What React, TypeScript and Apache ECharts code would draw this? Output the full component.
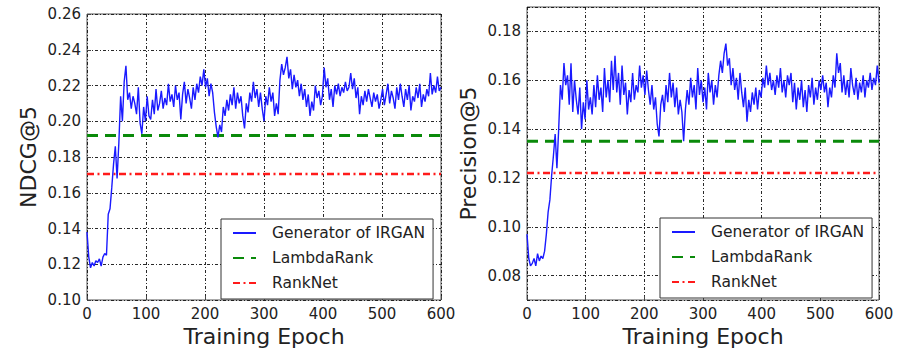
import React, { useEffect, useRef } from "react";
import * as echarts from "echarts";

const seriesNames = ["Generator of IRGAN", "LambdaRank", "RankNet"];
const axisTitles = ["NDCG@5", "Precision@5"];
const xTitle = "Training Epoch";
const epochStep = 3;

const ndcg = [
  0.138, 0.124, 0.118, 0.121, 0.119, 0.122, 0.121, 0.123, 0.119, 0.124,
  0.126, 0.125, 0.148, 0.151, 0.163, 0.176, 0.186, 0.168, 0.188, 0.214,
  0.200, 0.222, 0.231, 0.212, 0.216, 0.207, 0.214, 0.210, 0.204, 0.219,
  0.199, 0.193, 0.208, 0.200, 0.214, 0.203, 0.201, 0.212, 0.204, 0.218,
  0.206, 0.210, 0.217, 0.207, 0.213, 0.209, 0.221, 0.211, 0.215, 0.208,
  0.220, 0.212, 0.216, 0.201, 0.215, 0.222, 0.210, 0.218, 0.213, 0.207,
  0.219, 0.212, 0.221, 0.216, 0.225, 0.220, 0.229, 0.219, 0.224, 0.214,
  0.221, 0.216, 0.205, 0.197, 0.191, 0.198, 0.194, 0.208, 0.203, 0.212,
  0.206, 0.215, 0.209, 0.219, 0.207, 0.216, 0.210, 0.214, 0.203, 0.196,
  0.210, 0.205, 0.216, 0.211, 0.222, 0.213, 0.218, 0.208, 0.216, 0.207,
  0.200, 0.214, 0.209, 0.219, 0.211, 0.216, 0.203, 0.210, 0.204, 0.223,
  0.232, 0.226, 0.230, 0.236, 0.224, 0.229, 0.218, 0.226, 0.219, 0.223,
  0.214, 0.221, 0.212, 0.218, 0.208, 0.215, 0.203, 0.211, 0.206, 0.220,
  0.213, 0.217, 0.209, 0.214, 0.230, 0.219, 0.224, 0.212, 0.218, 0.208,
  0.220, 0.215, 0.221, 0.214, 0.219, 0.216, 0.222, 0.217, 0.219, 0.227,
  0.218, 0.224, 0.213, 0.219, 0.204, 0.214, 0.209, 0.217, 0.211, 0.218,
  0.213, 0.208, 0.216, 0.211, 0.215, 0.207, 0.212, 0.218, 0.209, 0.215,
  0.221, 0.210, 0.217, 0.213, 0.207, 0.219, 0.212, 0.221, 0.214, 0.208,
  0.218, 0.212, 0.220, 0.206, 0.214, 0.211, 0.219, 0.213, 0.221, 0.208,
  0.215, 0.211, 0.218, 0.214, 0.227, 0.215, 0.220, 0.216, 0.225, 0.217,
  0.219,
];

const precision = [
  0.097, 0.087, 0.084, 0.085, 0.087, 0.084, 0.089, 0.086, 0.088, 0.087,
  0.090, 0.097, 0.106, 0.111, 0.121, 0.129, 0.138, 0.124, 0.140, 0.158,
  0.152, 0.167, 0.158, 0.162, 0.150, 0.167, 0.147, 0.160, 0.152, 0.146,
  0.157, 0.140, 0.151, 0.144, 0.160, 0.148, 0.153, 0.146, 0.158, 0.149,
  0.162, 0.152, 0.157, 0.147, 0.165, 0.153, 0.160, 0.151, 0.168, 0.156,
  0.170, 0.155, 0.163, 0.150, 0.166, 0.154, 0.159, 0.146, 0.156, 0.151,
  0.163, 0.152, 0.158, 0.155, 0.166, 0.157, 0.162, 0.154, 0.164, 0.156,
  0.150, 0.158, 0.148, 0.153, 0.142, 0.137, 0.150, 0.154, 0.147, 0.158,
  0.151, 0.163, 0.153, 0.159, 0.149, 0.157, 0.146, 0.152, 0.147, 0.135,
  0.148, 0.156, 0.150, 0.161, 0.153, 0.158, 0.148, 0.165, 0.154, 0.160,
  0.151, 0.157, 0.148, 0.163, 0.155, 0.160, 0.150, 0.158, 0.153, 0.162,
  0.168, 0.163, 0.171, 0.175, 0.166, 0.169, 0.158, 0.165, 0.156, 0.161,
  0.152, 0.163, 0.155, 0.149, 0.157, 0.143, 0.152, 0.147, 0.155, 0.150,
  0.157, 0.148, 0.156, 0.153, 0.161, 0.157, 0.166, 0.158, 0.163, 0.156,
  0.160, 0.154, 0.162, 0.157, 0.165, 0.155, 0.160, 0.153, 0.162, 0.158,
  0.163, 0.151, 0.159, 0.148, 0.157, 0.152, 0.160, 0.149, 0.156, 0.147,
  0.158, 0.153, 0.161, 0.150, 0.157, 0.152, 0.160, 0.156, 0.162, 0.155,
  0.159, 0.149, 0.157, 0.153, 0.162, 0.157, 0.171, 0.163, 0.167, 0.155,
  0.162, 0.154, 0.160, 0.153, 0.165, 0.158, 0.154, 0.161, 0.152, 0.159,
  0.155, 0.162, 0.153, 0.160, 0.157, 0.163, 0.156, 0.161, 0.158, 0.166,
  0.159,
];

const lambdaRank = [0.192, 0.135];
const rankNet = [0.1705, 0.122];
const xRange = [0, 600];
const yRanges = [
  [0.1, 0.26],
  [0.07, 0.19],
];

const FONT = "DejaVu Sans";
const TXT = "#222";

export default function App() {
  const ref = useRef<HTMLDivElement>(null);
  useEffect(() => {
    if (!ref.current) return;
    const chart = echarts.init(ref.current, undefined, { renderer: "svg" });
    const curves = [ndcg, precision];
    const grids = [
      { left: 87, top: 14, width: 354, height: 286 },
      { left: 527, top: 7, width: 352, height: 293 },
    ];
    const splitStyle = {
      show: true,
      lineStyle: { color: "#111", width: 0.9, type: [3, 2, 1, 2] },
    };
    const tickStyle = { show: true, inside: true, length: 4, lineStyle: { color: "#444" } };
    const xAxes: any[] = [];
    const yAxes: any[] = [];
    grids.forEach((_, i) => {
      xAxes.push({
        type: "value",
        gridIndex: i,
        min: xRange[0],
        max: xRange[1],
        interval: 100,
        name: xTitle,
        nameLocation: "middle",
        nameGap: 25,
        nameTextStyle: { fontFamily: FONT, fontSize: 22, color: TXT },
        axisLine: { show: false },
        axisTick: tickStyle,
        axisLabel: { fontFamily: FONT, fontSize: 15, color: TXT, margin: 6 },
        splitLine: splitStyle,
      });
      const y: any = {
        type: "value",
        gridIndex: i,
        min: yRanges[i][0],
        max: yRanges[i][1],
        name: axisTitles[i],
        nameLocation: "middle",
        nameGap: 48,
        nameTextStyle: { fontFamily: FONT, fontSize: 22, color: TXT },
        axisLine: { show: false },
        axisTick: tickStyle,
        axisLabel: {
          fontFamily: FONT,
          fontSize: 15,
          color: TXT,
          margin: 6,
          formatter: (v: number) => v.toFixed(2),
        },
        splitLine: splitStyle,
      };
      if (i === 0) {
        y.interval = 0.02;
      } else {
        y.splitNumber = 6;
        y.axisLabel.showMinLabel = false;
        y.axisLabel.showMaxLabel = false;
      }
      yAxes.push(y);
    });
    const series: any[] = [];
    for (let i = 0; i < 2; i++) {
      series.push({
        name: seriesNames[0],
        type: "line",
        xAxisIndex: i,
        yAxisIndex: i,
        symbol: "none",
        data: curves[i].map((v, k) => [k * epochStep, v]),
        lineStyle: { color: "#1a1aff", width: 1.4 },
        itemStyle: { color: "#1a1aff" },
        z: 3,
      });
      series.push({
        name: seriesNames[1],
        type: "line",
        xAxisIndex: i,
        yAxisIndex: i,
        symbol: "none",
        data: [
          [xRange[0], lambdaRank[i]],
          [xRange[1], lambdaRank[i]],
        ],
        lineStyle: { color: "#0a8a0a", width: 3, type: [11, 7] },
        itemStyle: { color: "#0a8a0a" },
        z: 2,
      });
      series.push({
        name: seriesNames[2],
        type: "line",
        xAxisIndex: i,
        yAxisIndex: i,
        symbol: "none",
        data: [
          [xRange[0], rankNet[i]],
          [xRange[1], rankNet[i]],
        ],
        lineStyle: { color: "#ff1a1a", width: 2.5, type: [7, 3.5, 2, 3.5] },
        itemStyle: { color: "#ff1a1a" },
        z: 2,
      });
    }
    const legendPos = [
      { left: 221, top: 219 },
      { left: 660, top: 218 },
    ];
    const legends = legendPos.map((p) => ({
      ...p,
      orient: "vertical",
      data: seriesNames,
      selectedMode: false,
      backgroundColor: "#fff",
      borderColor: "#333",
      borderWidth: 1,
      padding: [6, 8, 8, 11],
      itemWidth: 23,
      itemHeight: 14,
      itemGap: 9,
      itemStyle: { opacity: 0 },
      textStyle: {
        fontFamily: FONT,
        fontSize: 15.5,
        color: TXT,
        padding: [0, 0, 0, 11],
      },
      z: 10,
    }));
    chart.setOption({
      animation: false,
      backgroundColor: "#fff",
      grid: grids.map((g) => ({
        ...g,
        show: true,
        borderColor: "#555",
        borderWidth: 1,
        backgroundColor: "transparent",
      })),
      xAxis: xAxes,
      yAxis: yAxes,
      legend: legends,
      series,
    });
    return () => chart.dispose();
  }, []);
  return (
    <div
      ref={ref}
      style={{ position: "absolute", left: 0, top: 0, width: 902, height: 353 }}
    />
  );
}
